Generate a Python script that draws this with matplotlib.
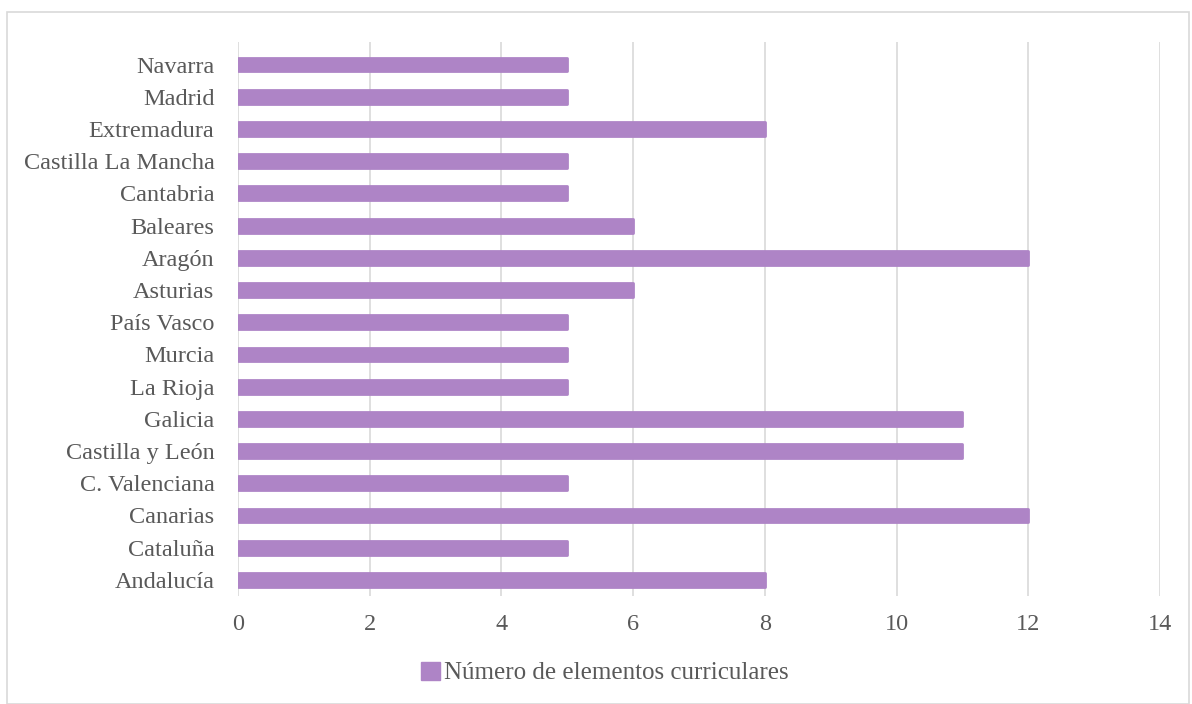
import matplotlib.pyplot as plt
from matplotlib.patches import Patch, Rectangle

plt.rcParams['font.family'] = ['Liberation Serif', 'DejaVu Serif']

# Data (bottom to top as drawn)
regions = ['Andalucía', 'Cataluña', 'Canarias', 'C. Valenciana', 'Castilla y León',
           'Galicia', 'La Rioja', 'Murcia', 'País Vasco', 'Asturias', 'Aragón',
           'Baleares', 'Cantabria', 'Castilla La Mancha', 'Extremadura', 'Madrid',
           'Navarra']
values = [8, 5, 12, 5, 11, 11, 5, 5, 5, 6, 12, 6, 5, 5, 8, 5, 5]
series_name = 'Número de elementos curriculares'
x_ticks = [0, 2, 4, 6, 8, 10, 12, 14]

bar_color = '#AE84C6'
text_color = '#595959'
grid_color = '#D9D9D9'

fig = plt.figure(figsize=(11.92, 7.04), dpi=100)
ax = fig.add_axes([238 / 1192, 1 - 596 / 704, (1160 - 238) / 1192, (596 - 42) / 704])

ax.barh(range(len(regions)), values, height=0.43, color=bar_color,
        edgecolor=bar_color, linewidth=2, joinstyle='round', zorder=3)

ax.set_xlim(0, 14)
ax.set_ylim(-0.5, len(regions) - 0.5 + 0.2)
ax.set_xticks(x_ticks)
ax.set_yticks(range(len(regions)))
ax.set_yticklabels(regions)
ax.tick_params(axis='both', length=0, labelsize=17.5, labelcolor=text_color)
ax.tick_params(axis='y', pad=17)
ax.tick_params(axis='x', pad=13)
ax.xaxis.grid(True, color=grid_color, linewidth=1.2, zorder=0)
ax.set_axisbelow(True)
for s in ax.spines.values():
    s.set_visible(False)

# chart border
fig.patches.append(Rectangle((7 / 1192, 0), 1182 / 1192, 1 - 12 / 704,
                             transform=fig.transFigure, fill=False,
                             edgecolor='#D9D9D9', linewidth=1.2))

handle = Patch(facecolor=bar_color, edgecolor=bar_color)
fig.legend(handles=[handle], labels=[series_name], loc='center',
           bbox_to_anchor=(605 / 1192, 1 - 673 / 704), frameon=False,
           handlelength=0.75, handleheight=0.75, handletextpad=0.15,
           prop={'size': 18}, labelcolor=text_color)

plt.savefig('out.png', dpi=100)
